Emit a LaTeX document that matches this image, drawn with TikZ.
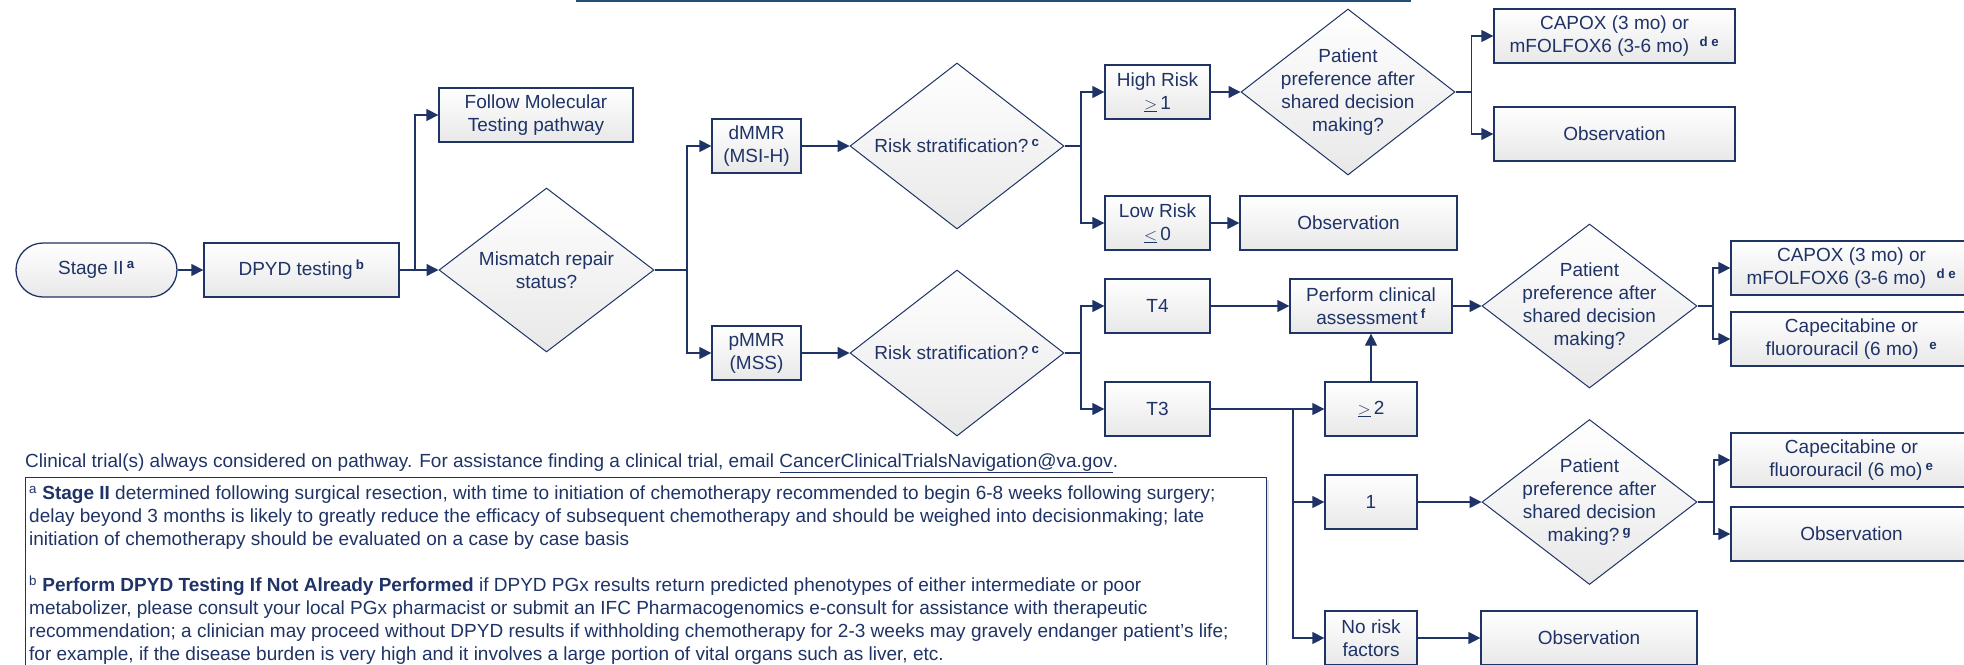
\documentclass[tikz,border=0pt]{standalone}
\usepackage{fontspec}
\setmainfont{Liberation Sans}
\usetikzlibrary{shapes.geometric,arrows.meta,calc}
\definecolor{navy}{RGB}{31,51,102}
\definecolor{topblue}{RGB}{31,78,121}
\definecolor{boxbot}{RGB}{232,232,232}
\newcommand{\sups}[1]{\textsuperscript{\bfseries #1}}
\tikzset{
  base/.style={draw=navy, line width=1.3pt, top color=white, bottom color=boxbot, text=navy, align=center, inner sep=0pt, font=\fontsize{19}{23}\selectfont},
  bx/.style={base, rectangle},
  dia/.style={base, diamond, line width=1pt},
  conn/.style={draw=navy, line width=1.3pt},
  arr/.style={conn, -{Triangle[length=12pt,width=12pt]}},
  lbl/.style={text=navy, align=center, font=\fontsize{19}{23}\selectfont, inner sep=0pt},
  sz/.style 2 args={minimum width=#1pt, minimum height=#2pt},
}
\begin{document}
\begin{tikzpicture}[x=1pt,y=-1pt]
\useasboundingbox (0,0) rectangle (1964,664);
\draw[topblue, line width=2pt] (576,1) -- (1411,1);

% left part
\node[bx, rounded corners=27pt, sz={161}{54}] (stage) at (96.5,270) {Stage II\,\sups{a}};
\node[bx, sz={195}{54}] (dpyd) at (301.5,270) {DPYD testing\,\sups{b}};
\node[bx, sz={194}{54}] (follow) at (536,115) {Follow Molecular\\Testing pathway};
\node[dia, sz={215}{164}] (mm) at (546.5,270) {};
\node[lbl] (mmt) at (mm.center) {Mismatch repair\\status?};

\node[bx, sz={89}{54}] (dmmr) at (756.5,146) {dMMR\\(MSI-H)};
\node[bx, sz={89}{54}] (pmmr) at (756.5,353) {pMMR\\(MSS)};
\node[dia, sz={214}{166}] (risk1) at (957,146) {};
\node[lbl] (risk1t) at (risk1.center) {Risk stratification?\,\sups{c}};
\node[dia, sz={214}{166}] (risk2) at (957,353) {};
\node[lbl] (risk2t) at (risk2.center) {Risk stratification?\,\sups{c}};

\node[bx, sz={105}{54}] (high) at (1157.5,92) {High Risk\\$\underline{>}$\,1};
\node[bx, sz={105}{54}] (low) at (1157.5,223) {Low Risk\\$\underline{<}$\,0};
\node[bx, sz={105}{54}] (t4) at (1157.5,306) {T4};
\node[bx, sz={105}{54}] (t3) at (1157.5,409) {T3};

\node[dia, sz={214}{166}] (pat1) at (1348,92) {};
\node[lbl] (pat1t) at (pat1.center) {Patient\\preference after\\shared decision\\making?};
\node[bx, sz={217}{54}] (obs1) at (1348.5,223) {Observation};
\node[bx, sz={241}{54}] (capox1) at (1614.5,36) {CAPOX (3 mo) or\\mFOLFOX6 (3-6 mo)~~\sups{d e}};
\node[bx, sz={241}{54}] (obsA) at (1614.5,134) {Observation};

\node[bx, sz={162}{54}] (perform) at (1371,306) {Perform clinical\\assessment\,\sups{f}};
\node[bx, sz={92}{54}] (ge2) at (1371,409) {$\underline{>}$\,2};
\node[bx, sz={92}{54}] (one) at (1371,502) {1};
\node[bx, sz={92}{54}] (norisk) at (1371,638) {No risk\\factors};

\node[dia, sz={215}{164}] (pat2) at (1589.5,306) {};
\node[lbl] (pat2t) at (pat2.center) {Patient\\preference after\\shared decision\\making?};
\node[dia, sz={215}{165}] (pat3) at (1589.5,502) {};
\node[lbl] (pat3t) at (pat3.center) {Patient\\preference after\\shared decision\\making?\,\sups{g}};
\node[bx, sz={216}{54}] (obs4) at (1589,638) {Observation};

\node[bx, sz={241}{54}] (capox2) at (1851.5,268) {CAPOX (3 mo) or\\mFOLFOX6 (3-6 mo)~~\sups{d e}};
\node[bx, sz={241}{54}] (cape2) at (1851.5,339) {Capecitabine or\\fluorouracil (6 mo)~~\sups{e}};
\node[bx, sz={241}{54}] (cape3) at (1851.5,460) {Capecitabine or\\fluorouracil (6 mo)\,\sups{e}};
\node[bx, sz={241}{54}] (obs3) at (1851.5,534) {Observation};

% connectors
\draw[arr] (stage.east) -- (dpyd.west);
\draw[arr] (dpyd.east) -- (mm.west);
\coordinate (j1) at (415,270);
\draw[arr] (j1) |- (follow.west);
\coordinate (j2) at (687,270);
\draw[conn] (mm.east) -- (j2);
\draw[arr] (j2) |- (dmmr.west);
\draw[arr] (j2) |- (pmmr.west);
\draw[arr] (dmmr.east) -- (risk1.west);
\draw[arr] (pmmr.east) -- (risk2.west);
\coordinate (j3) at (1081,146);
\draw[conn] (risk1.east) -- (j3);
\draw[arr] (j3) |- (high.west);
\draw[arr] (j3) |- (low.west);
\coordinate (j4) at (1081,353);
\draw[conn] (risk2.east) -- (j4);
\draw[arr] (j4) |- (t4.west);
\draw[arr] (j4) |- (t3.west);
\draw[arr] (high.east) -- (pat1.west);
\draw[arr] (low.east) -- (obs1.west);
\coordinate (j5) at (1471.5,92);
\draw[conn] (pat1.east) -- (j5);
\draw[arr] (j5) |- (capox1.west);
\draw[arr] (j5) |- (obsA.west);
\draw[arr] (t4.east) -- (perform.west);
\draw[arr] (t3.east) -- (ge2.west);
\coordinate (j6) at (1293,409);
\draw[arr] (j6) |- (one.west);
\draw[arr] (j6) |- (norisk.west);
\draw[arr] (ge2.north) -- (perform.south);
\draw[arr] (perform.east) -- (pat2.west);
\coordinate (j7) at (1713,306);
\draw[conn] (pat2.east) -- (j7);
\draw[arr] (j7) |- (capox2.west);
\draw[arr] (j7) |- (cape2.west);
\draw[arr] (one.east) -- (pat3.west);
\coordinate (j8) at (1714,502);
\draw[conn] (pat3.east) -- (j8);
\draw[arr] (j8) |- (cape3.west);
\draw[arr] (j8) |- (obs3.west);
\draw[arr] (norisk.east) -- (obs4.west);

% footnotes
\node[anchor=base west, text=navy, inner sep=0pt, font=\fontsize{19}{23}\selectfont] (trial) at (25,467)
  {Clinical trial(s) always considered on pathway. For assistance finding a clinical trial, email \underline{CancerClinicalTrialsNavigation@va.gov}.};
\fill[black!12] (27.5,480) rectangle (1269,700);
\node[draw=navy, line width=1.3pt, fill=white, anchor=north west, inner sep=0pt, minimum width=1241.5pt, minimum height=230pt] (fnbox) at (24.5,477) {};
\node[anchor=north west, text=navy, align=left, inner sep=0pt, font=\fontsize{19}{23}\selectfont] (fn) at (29,486)
  {\textsuperscript{a} \textbf{Stage II} determined following surgical resection, with time to initiation of chemotherapy recommended to begin 6-8 weeks following surgery;\\
  delay beyond 3 months is likely to greatly reduce the efficacy of subsequent chemotherapy and should be weighed into decisionmaking; late\\
  initiation of chemotherapy should be evaluated on a case by case basis\\[23pt]
  \textsuperscript{b} \textbf{Perform DPYD Testing If Not Already Performed} if DPYD PGx results return predicted phenotypes of either intermediate or poor\\
  metabolizer, please consult your local PGx pharmacist or submit an IFC Pharmacogenomics e-consult for assistance with therapeutic\\
  recommendation; a clinician may proceed without DPYD results if withholding chemotherapy for 2-3 weeks may gravely endanger patient's life;\\
  for example, if the disease burden is very high and it involves a large portion of vital organs such as liver, etc.};
\end{tikzpicture}
\end{document}
